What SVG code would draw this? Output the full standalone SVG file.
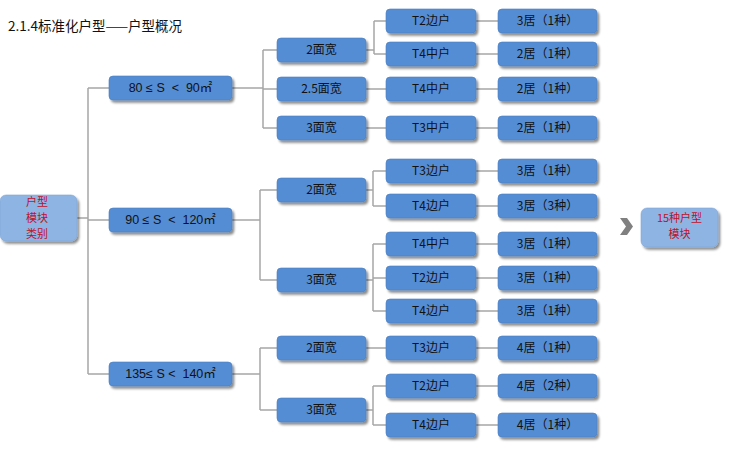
<svg xmlns="http://www.w3.org/2000/svg" width="745" height="465" viewBox="0 0 745 465">
<defs>
<filter id="sh" x="-10%" y="-20%" width="130%" height="160%">
<feDropShadow dx="2" dy="2.5" stdDeviation="1.3" flood-color="#000" flood-opacity="0.45"/>
</filter>
<style>
.b{fill:#548DD4;stroke:#4A7EBF;stroke-width:0.6;filter:url(#sh)}
.lb{fill:#8DB4E2;stroke:#7FA6D6;stroke-width:0.6;filter:url(#sh)}
.t{font-family:"Noto Sans CJK SC","Liberation Sans",sans-serif;font-size:12px;fill:#111;text-anchor:middle}
.m{font-family:"Liberation Sans","Noto Sans CJK SC",sans-serif;font-size:12.5px;fill:#111;text-anchor:middle}
.r{font-family:"Noto Sans CJK SC","Liberation Sans",sans-serif;font-size:11px;fill:#C0102A;text-anchor:middle}
.c{fill:none;stroke:#A6A6A6;stroke-width:1.5}
</style>
</defs>
<rect width="745" height="465" fill="#fff"/>
<text x="8" y="31" font-family="'Noto Sans CJK SC','Liberation Sans',sans-serif" font-size="13.5" fill="#111">2.1.4标准化户型——户型概况</text>
<g id="connectors">
<path class="c" d="M77,218H88M88,88V374M88,88H110M88,220H110M88,374H110"/>
<path class="c" d="M232,88H263M263,50V128M263,50H277M263,89H277M263,128H277"/>
<path class="c" d="M366,50H374M374,21V54M374,21H386M374,54H386M366,89H386M366,128H386"/>
<path class="c" d="M232,220H260M260,190V280M260,190H277M260,280H277"/>
<path class="c" d="M366,190H373M373,171V206M373,171H386M373,206H386"/>
<path class="c" d="M366,280H373M373,244V311M373,244H386M373,278H386M373,311H386"/>
<path class="c" d="M232,374H260M260,348V410M260,348H277M260,410H277"/>
<path class="c" d="M366,348H386M366,410H373M373,386V425M373,386H386M373,425H386"/>
<path class="c" d="M476,21H498M476,54H498M476,89H498M476,128H498M476,171H498M476,206H498M476,244H498M476,278H498M476,311H498M476,348H498M476,386H498M476,425H498"/>
</g>
<g id="root"><rect class="lb" x="0" y="195" width="77" height="46" rx="6"/>
<text class="r" x="37" y="206">户型</text><text class="r" x="37" y="222">模块</text><text class="r" x="37" y="238">类别</text></g>
<g id="s80"><rect class="b" x="109" y="76" width="123" height="24" rx="4"/><text class="m" x="170.5" y="92" xml:space="preserve">80 ≤ S  &lt;  90㎡</text></g>
<g id="s90"><rect class="b" x="109" y="208" width="123" height="24" rx="4"/><text class="m" x="170.5" y="224" xml:space="preserve">90 ≤ S  &lt;  120㎡</text></g>
<g id="s135"><rect class="b" x="109" y="362" width="123" height="24" rx="4"/><text class="m" x="170.5" y="378" xml:space="preserve">135≤ S &lt;  140㎡</text></g>
<g id="a2"><rect class="b" x="277" y="38" width="89" height="24" rx="4"/><text class="t" x="321.5" y="54">2面宽</text></g>
<g id="a25"><rect class="b" x="277" y="77" width="89" height="24" rx="4"/><text class="t" x="321.5" y="93">2.5面宽</text></g>
<g id="a3"><rect class="b" x="277" y="116" width="89" height="24" rx="4"/><text class="t" x="321.5" y="132">3面宽</text></g>
<g id="b2"><rect class="b" x="277" y="178" width="89" height="24" rx="4"/><text class="t" x="321.5" y="194">2面宽</text></g>
<g id="b3"><rect class="b" x="277" y="268" width="89" height="24" rx="4"/><text class="t" x="321.5" y="284">3面宽</text></g>
<g id="c2"><rect class="b" x="277" y="336" width="89" height="24" rx="4"/><text class="t" x="321.5" y="352">2面宽</text></g>
<g id="c3"><rect class="b" x="277" y="398" width="89" height="24" rx="4"/><text class="t" x="321.5" y="414">3面宽</text></g>
<g id="u1"><rect class="b" x="386" y="9" width="90" height="24" rx="4"/><text class="t" x="431" y="25">T2边户</text></g>
<g id="u2"><rect class="b" x="386" y="42" width="90" height="24" rx="4"/><text class="t" x="431" y="58">T4中户</text></g>
<g id="u3"><rect class="b" x="386" y="77" width="90" height="24" rx="4"/><text class="t" x="431" y="93">T4中户</text></g>
<g id="u4"><rect class="b" x="386" y="116" width="90" height="24" rx="4"/><text class="t" x="431" y="132">T3中户</text></g>
<g id="u5"><rect class="b" x="386" y="159" width="90" height="24" rx="4"/><text class="t" x="431" y="175">T3边户</text></g>
<g id="u6"><rect class="b" x="386" y="194" width="90" height="24" rx="4"/><text class="t" x="431" y="210">T4边户</text></g>
<g id="u7"><rect class="b" x="386" y="232" width="90" height="24" rx="4"/><text class="t" x="431" y="248">T4中户</text></g>
<g id="u8"><rect class="b" x="386" y="266" width="90" height="24" rx="4"/><text class="t" x="431" y="282">T2边户</text></g>
<g id="u9"><rect class="b" x="386" y="299" width="90" height="24" rx="4"/><text class="t" x="431" y="315">T4边户</text></g>
<g id="u10"><rect class="b" x="386" y="336" width="90" height="24" rx="4"/><text class="t" x="431" y="352">T3边户</text></g>
<g id="u11"><rect class="b" x="386" y="374" width="90" height="24" rx="4"/><text class="t" x="431" y="390">T2边户</text></g>
<g id="u12"><rect class="b" x="386" y="413" width="90" height="24" rx="4"/><text class="t" x="431" y="429">T4边户</text></g>
<g id="r1"><rect class="b" x="498" y="9" width="99" height="24" rx="4"/><text class="t" x="547.5" y="25">3居（1种）</text></g>
<g id="r2"><rect class="b" x="498" y="42" width="99" height="24" rx="4"/><text class="t" x="547.5" y="58">2居（1种）</text></g>
<g id="r3"><rect class="b" x="498" y="77" width="99" height="24" rx="4"/><text class="t" x="547.5" y="93">2居（1种）</text></g>
<g id="r4"><rect class="b" x="498" y="116" width="99" height="24" rx="4"/><text class="t" x="547.5" y="132">2居（1种）</text></g>
<g id="r5"><rect class="b" x="498" y="159" width="99" height="24" rx="4"/><text class="t" x="547.5" y="175">3居（1种）</text></g>
<g id="r6"><rect class="b" x="498" y="194" width="99" height="24" rx="4"/><text class="t" x="547.5" y="210">3居（3种）</text></g>
<g id="r7"><rect class="b" x="498" y="232" width="99" height="24" rx="4"/><text class="t" x="547.5" y="248">3居（1种）</text></g>
<g id="r8"><rect class="b" x="498" y="266" width="99" height="24" rx="4"/><text class="t" x="547.5" y="282">3居（1种）</text></g>
<g id="r9"><rect class="b" x="498" y="299" width="99" height="24" rx="4"/><text class="t" x="547.5" y="315">3居（1种）</text></g>
<g id="r10"><rect class="b" x="498" y="336" width="99" height="24" rx="4"/><text class="t" x="547.5" y="352">4居（1种）</text></g>
<g id="r11"><rect class="b" x="498" y="374" width="99" height="24" rx="4"/><text class="t" x="547.5" y="390">4居（2种）</text></g>
<g id="r12"><rect class="b" x="498" y="413" width="99" height="24" rx="4"/><text class="t" x="547.5" y="429">4居（1种）</text></g>
<g id="chevron"><polygon points="620,218 627,218 633,226.5 627,235 620,235 626,226.5" fill="#808080"/></g>
<g id="total"><rect class="lb" x="641" y="208" width="77" height="39" rx="6"/>
<text class="r" x="679.5" y="222">15种户型</text><text class="r" x="679.5" y="238">模块</text></g>
</svg>
